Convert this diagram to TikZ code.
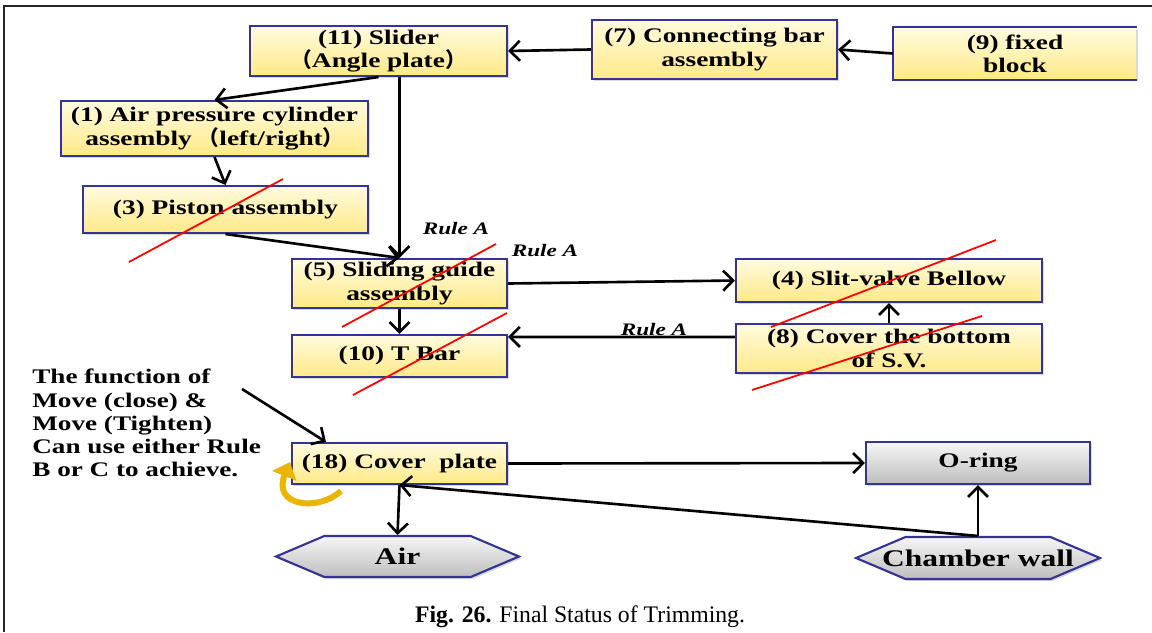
\documentclass[tikz,border=0pt]{standalone}
\usepackage{fontspec}
\setmainfont{Liberation Serif}
\newfontfamily\boxfont{Liberation Serif}[FakeStretch=1.32]
\newfontfamily\notefont{Liberation Serif}[FakeStretch=1.31]
\newfontfamily\cjk{Noto Sans CJK SC}
\usepackage{xcolor}
\usepackage{tikz}
\usetikzlibrary{arrows.meta,shapes.symbols,shadows}
\definecolor{boxtop}{RGB}{255,251,222}
\definecolor{boxbot}{RGB}{255,233,135}
\definecolor{greytop}{RGB}{246,246,246}
\definecolor{greybot}{RGB}{190,190,190}
\definecolor{boxline}{RGB}{52,52,150}
\definecolor{goldfill}{RGB}{232,182,0}

\begin{document}
\begin{tikzpicture}[x=0.02cm, y=-0.02cm,
  partbox/.style={draw=boxline, line width=1.2pt, top color=boxtop, bottom color=boxbot, align=center, inner sep=1pt, font=\boxfont\bfseries\fontsize{11.8}{13.2}\selectfont, drop shadow={shadow xshift=1.2pt, shadow yshift=-1.2pt, opacity=0.3}},
  greybox/.style={partbox, top color=greytop, bottom color=greybot},
  hexbox/.style={greybox, signal, signal to=west and east, signal pointer angle=46, inner xsep=-0.5cm, font=\boxfont\bfseries\fontsize{13.6}{15}\selectfont},
  edge/.style={-{Straight Barb[length=2mm, width=4mm]}, line width=1.5pt},
  strike/.style={red, line width=1pt},
  twist/.style={draw=goldfill, line width=3.4pt, -{Triangle[length=3mm, width=5mm]}},
  rulelabel/.style={inner sep=0pt, font=\boxfont\bfseries\itshape\fontsize{10}{12}\selectfont},
  note/.style={align=left, inner sep=0pt, font=\notefont\bfseries\fontsize{11.8}{13.2}\selectfont},
  caption/.style={inner sep=0pt, font=\fontsize{13.5}{15}\selectfont},
  frame/.style={line width=1.4pt, black!85}
]
\useasboundingbox (0,0) rectangle (1152,632);
\draw[frame] (4,632) -- (4,6) -- (1152,6);

\node[partbox, minimum width=5.14cm, minimum height=1.0cm] (slider) at (378.5,51) {(11) Slider\\{\cjk （}Angle plate{\cjk ）}};
\node[partbox, minimum width=4.9cm, minimum height=1.18cm] (conn) at (714.5,49.5) {(7) Connecting bar\\assembly};
\node[partbox, draw=none, minimum width=4.84cm, minimum height=1.02cm] (fixed) at (1015,53.5) {(9) fixed\\block};
\node[partbox, minimum width=6.14cm, minimum height=1.1cm] (aircyl) at (214.5,128.5) {(1) Air pressure cylinder\\assembly {\cjk （}left/right{\cjk ）}};
\node[partbox, minimum width=5.7cm, minimum height=0.94cm] (piston) at (225.5,209.5) {(3) Piston assembly};
\node[partbox, minimum width=4.3cm, minimum height=0.98cm] (sg) at (399.5,283.5) {(5) Sliding guide\\assembly};
\node[partbox, minimum width=4.3cm, minimum height=0.84cm] (tbar) at (399.5,356) {(10) T Bar};
\node[partbox, minimum width=6.12cm, minimum height=0.86cm] (slit) at (889,280.5) {(4) Slit-valve Bellow};
\node[partbox, minimum width=6.12cm, minimum height=0.98cm] (cover8) at (889,348.5) {(8) Cover the bottom\\of S.V.};
\node[partbox, minimum width=4.3cm, minimum height=0.82cm] (cover18) at (399.5,463.5) {(18) Cover~ plate};
\node[greybox, minimum width=4.48cm, minimum height=0.84cm] (oring) at (978,463) {O-ring};
\node[hexbox, minimum width=4.86cm, minimum height=0.82cm] (air) at (397.5,556.5) {Air};
\node[hexbox, minimum width=4.88cm, minimum height=0.84cm] (chamber) at (978,558) {Chamber wall};
\draw[boxline, line width=1.2pt] (fixed.north east) -- (fixed.north west) -- (fixed.south west) -- (fixed.south east);

\node[rulelabel] (ruleone) at (456,229) {Rule A};
\node[rulelabel] (ruletwo) at (545,251) {Rule A};
\node[rulelabel] (rulethree) at (654,330) {Rule A};
\node[note, anchor=north west] (fn) at (32,369) {The function of\\Move (close) \&\\Move (Tighten)\\Can use either Rule\\B or C to achieve.};
\coordinate (notetip) at (242,389);

\draw[edge] (fixed.west) -- (conn.east);
\draw[edge] (conn.west) -- (slider.east);
\draw[edge] (slider.south) -- (aircyl.north);
\draw[edge] (slider.south -| sg.north) -- (sg.north);
\draw[edge] (aircyl.south) -- (piston.north);
\draw[edge] (piston.south) -- (sg.north);
\draw[edge] (sg.east) -- (slit.west);
\draw[edge] (sg.south) -- (tbar.north);
\draw[edge] (cover8.north) -- (slit.south);
\draw[edge] ([yshift=-0.28cm]cover8.north west) -- ([yshift=-0.06cm]tbar.north east);
\draw[edge] (notetip) -- ([xshift=0.7cm]cover18.north west);
\draw[edge] (cover18.east) -- (oring.west);
\draw[edge] (cover18.south) -- (air.north);
\draw[edge] (chamber.north) -- (oring.south);
\draw[edge] (chamber.north) -- (cover18.south);

\draw[twist] (341,491) .. controls (318,512) and (272,506) .. (290,462);

\draw[strike] (129,262) -- (283,179);
\draw[strike] (342,327) -- (496,244);
\draw[strike] (353,395) -- (507,313);
\draw[strike] (771,327) -- (996,240);
\draw[strike] (752,390) -- (982,316);

\node[caption, anchor=base] (cap) at (580,622) {\textbf{Fig. 26.} Final Status of Trimming.};
\end{tikzpicture}
\end{document}
